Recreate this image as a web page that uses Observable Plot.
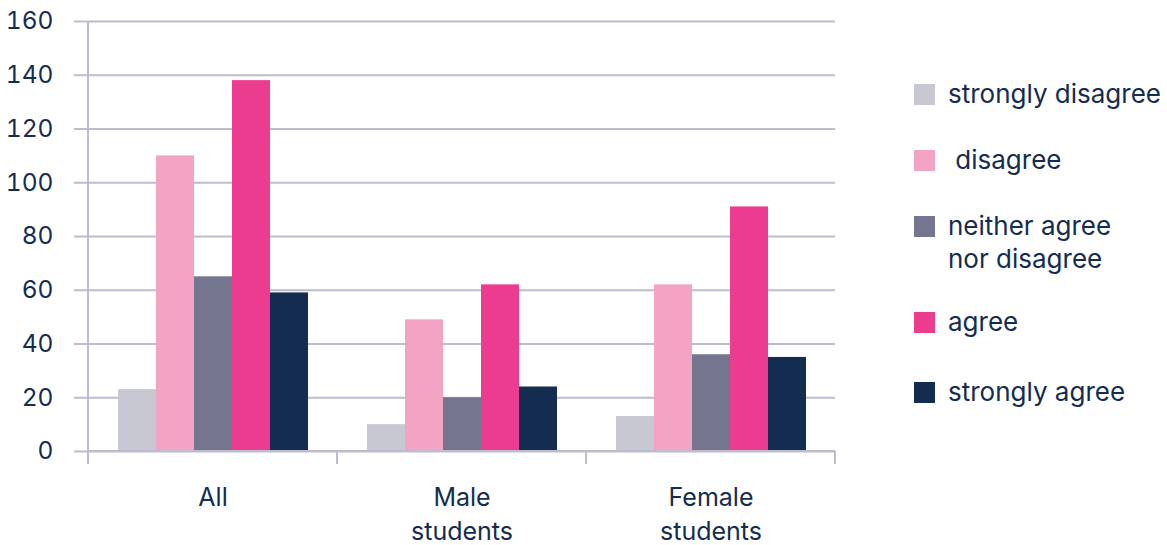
<!DOCTYPE html>
<html>
<head>
<meta charset="utf-8">
<script src="https://cdn.jsdelivr.net/npm/d3@7"></script>
<script src="https://cdn.jsdelivr.net/npm/@observablehq/plot@0.6"></script>
<style>
  html, body { margin: 0; padding: 0; background: #fff; }
  #wrap { position: relative; width: 1167px; height: 545px; font-family: Inter, "Open Sans", sans-serif; }
  #legend { position: absolute; left: 914px; top: 0; color: #142c50; font-size: 26px; }
  .item { position: absolute; left: 0; display: flex; align-items: flex-start; white-space: pre; }
  .sw { width: 21px; height: 21px; margin-right: 13px; flex: none; }
  .lab { line-height: 33px; margin-top: -7px; }
</style>
</head>
<body>
<div id="wrap"><div id="legend"></div></div>
<script>
const groups = ["All", "Male\nstudents", "Female\nstudents"];
const series = ["strongly disagree", "disagree", "neither agree nor disagree", "agree", "strongly agree"];
const legendLabels = ["strongly disagree", " disagree", "neither agree\nnor disagree", "agree", "strongly agree"];
const colors = ["#c8c8d2", "#f3a4c5", "#74768f", "#ec3c8f", "#132c50"];
const valuesAll = [23, 110, 65, 138, 59];
const valuesMale = [10, 49, 20, 62, 24];
const valuesFemale = [13, 62, 36, 91, 35];
const yTicks = [0, 20, 40, 60, 80, 100, 120, 140, 160];

const seriesValues = [valuesAll, valuesMale, valuesFemale];
const data = [];
groups.forEach((g, gi) => series.forEach((s, si) => data.push({group: g, series: s, value: seriesValues[gi][si]})));

const ink = "#142c50";
const gridColor = "#bebbcc";

const plot = Plot.plot({
  width: 1167,
  height: 545,
  marginLeft: 88,
  marginRight: 332,
  marginTop: 21,
  marginBottom: 94,
  style: {fontFamily: "Inter, 'Open Sans', sans-serif", fontSize: "24px", color: ink, background: "#fff"},
  fx: {domain: groups, padding: 0, label: null},
  x: {domain: series, paddingInner: 0, paddingOuter: 0.72, axis: null},
  y: {domain: [0, 160], ticks: yTicks, label: null},
  color: {domain: series, range: colors},
  marks: [
    Plot.gridY(yTicks, {stroke: gridColor, strokeOpacity: 1, strokeWidth: 2}),
    Plot.barY(data, {fx: "group", x: "series", y: "value", fill: "series"}),
    Plot.axisY(yTicks, {tickSize: 14, tickPadding: 21, stroke: gridColor, strokeWidth: 2, strokeOpacity: 1, fill: ink, fontSize: 24.5, label: null}),
    Plot.axisFx({anchor: "bottom", tickSize: 0, tickPadding: 30, fill: ink, fontSize: 25, lineHeight: 1.36, label: null})
  ]
});

// add the category-boundary ticks and the left axis line from the plot's own scales
const fx = plot.scale("fx");
const y = plot.scale("y");
const y0 = y.apply(0);
const yTop = y.apply(160);
const bounds = fx.domain.map(d => fx.apply(d));
bounds.push(fx.apply(fx.domain[fx.domain.length - 1]) + fx.bandwidth);
const g = d3.select(plot).append("g").attr("stroke", gridColor).attr("stroke-width", 2);
bounds.forEach((bx, i) => {
  g.append("line").attr("x1", bx).attr("x2", bx).attr("y1", i === 0 ? yTop : y0).attr("y2", y0 + 13);
});
g.append("line").attr("x1", bounds[0]).attr("x2", bounds[bounds.length - 1]).attr("y1", y0).attr("y2", y0);

document.getElementById("wrap").prepend(plot);

// legend
const legend = document.getElementById("legend");
const itemTops = [84, 150, 216, 312, 382];
legendLabels.forEach((l, i) => {
  const it = document.createElement("div");
  it.className = "item";
  it.style.top = itemTops[i] + "px";
  const sw = document.createElement("div");
  sw.className = "sw";
  sw.style.background = colors[i];
  const lab = document.createElement("div");
  lab.className = "lab";
  lab.textContent = l;
  it.appendChild(sw); it.appendChild(lab);
  legend.appendChild(it);
});
</script>
</body>
</html>
